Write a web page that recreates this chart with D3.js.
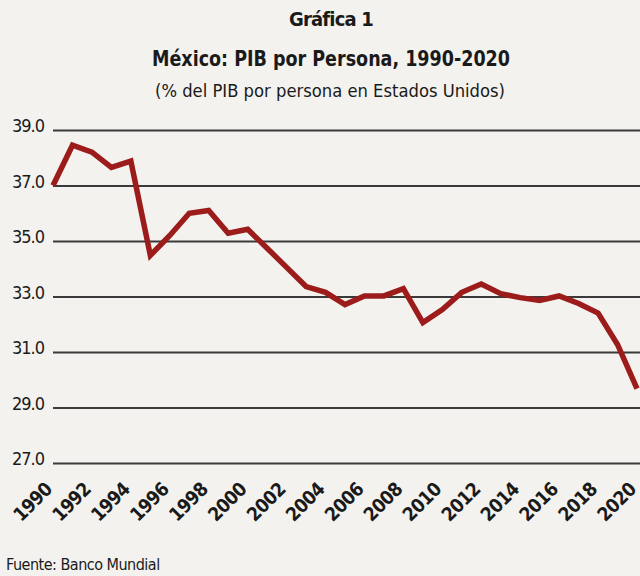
<!DOCTYPE html>
<html><head><meta charset="utf-8">
<script src="https://cdn.jsdelivr.net/npm/d3@7"></script>
<style>
html,body{margin:0;padding:0;background:#f3f2ee;}
svg{display:block;}
text{font-family:"DejaVu Sans Condensed","Liberation Sans Narrow","Roboto",sans-serif;fill:#1a1a1a;}
</style></head>
<body>
<script>
const years = [1990,1991,1992,1993,1994,1995,1996,1997,1998,1999,2000,2001,2002,2003,2004,2005,2006,2007,2008,2009,2010,2011,2012,2013,2014,2015,2016,2017,2018,2019,2020];
const values = [37.0,38.45,38.2,37.65,37.88,34.48,35.2,36.0,36.1,35.28,35.42,34.74,34.05,33.36,33.15,32.71,33.02,33.02,33.28,32.06,32.53,33.15,33.45,33.1,32.96,32.86,33.02,32.75,32.4,31.27,29.68];
const yTicks = [27,29,31,33,35,37,39];
const xTicks = [1990,1992,1994,1996,1998,2000,2002,2004,2006,2008,2010,2012,2014,2016,2018,2020];

const W=640,H=576;
const svg=d3.select("body").append("svg").attr("width",W).attr("height",H);
svg.append("rect").attr("width",W).attr("height",H).attr("fill","#f3f2ee");

const x=d3.scaleLinear().domain([1990,2020]).range([53,637]);
const y=d3.scaleLinear().domain([27,39]).range([463,130]);

// titles
svg.append("text").attr("x",331).attr("y",26).attr("text-anchor","middle")
  .attr("font-size",20).attr("font-weight","bold").attr("letter-spacing",-0.8).text("Gráfica 1");
svg.append("text").attr("x",331).attr("y",66).attr("text-anchor","middle")
  .attr("font-size",21).attr("font-weight","bold").attr("textLength",358).attr("lengthAdjust","spacingAndGlyphs")
  .text("México: PIB por Persona, 1990-2020");
svg.append("text").attr("x",330).attr("y",97).attr("text-anchor","middle")
  .attr("font-size",17).attr("textLength",350).attr("lengthAdjust","spacingAndGlyphs")
  .text("(% del PIB por persona en Estados Unidos)");

// grid
const yAxis=d3.axisLeft(y).tickValues(yTicks).tickFormat(d3.format(".1f")).tickSize(-(640-53)).tickPadding(8);
const gy=svg.append("g").attr("transform","translate(53,0)").call(yAxis);
gy.select(".domain").remove();
gy.selectAll(".tick line").attr("stroke","#3a3a3a").attr("stroke-width",2);
gy.selectAll(".tick text").attr("font-size",18).attr("fill","#1a1a1a").attr("letter-spacing",-1)
  .attr("x",-9).attr("dy","0.1em");

// x axis labels
const xAxis=d3.axisBottom(x).tickValues(xTicks).tickFormat(d3.format("d")).tickSize(0);
const gx=svg.append("g").attr("transform","translate(0,476)").call(xAxis);
gx.select(".domain").remove();
gx.selectAll(".tick text").attr("font-size",19).attr("font-weight","bold").attr("fill","#1a1a1a")
  .attr("letter-spacing",-0.6).attr("text-anchor","end")
  .attr("transform","translate(-9,3) rotate(-45)").attr("x",-2).attr("y",0).attr("dy","0.75em");

// line
const line=d3.line().x((d,i)=>x(years[i])).y(d=>y(d));
svg.append("path").datum(values).attr("d",line).attr("fill","none")
  .attr("stroke","#9c1c1c").attr("stroke-width",5.5).attr("stroke-linejoin","miter");

// source
svg.append("text").attr("x",6).attr("y",570).attr("font-size",16).attr("letter-spacing",-0.5).text("Fuente: Banco Mundial");
</script>
</body></html>
